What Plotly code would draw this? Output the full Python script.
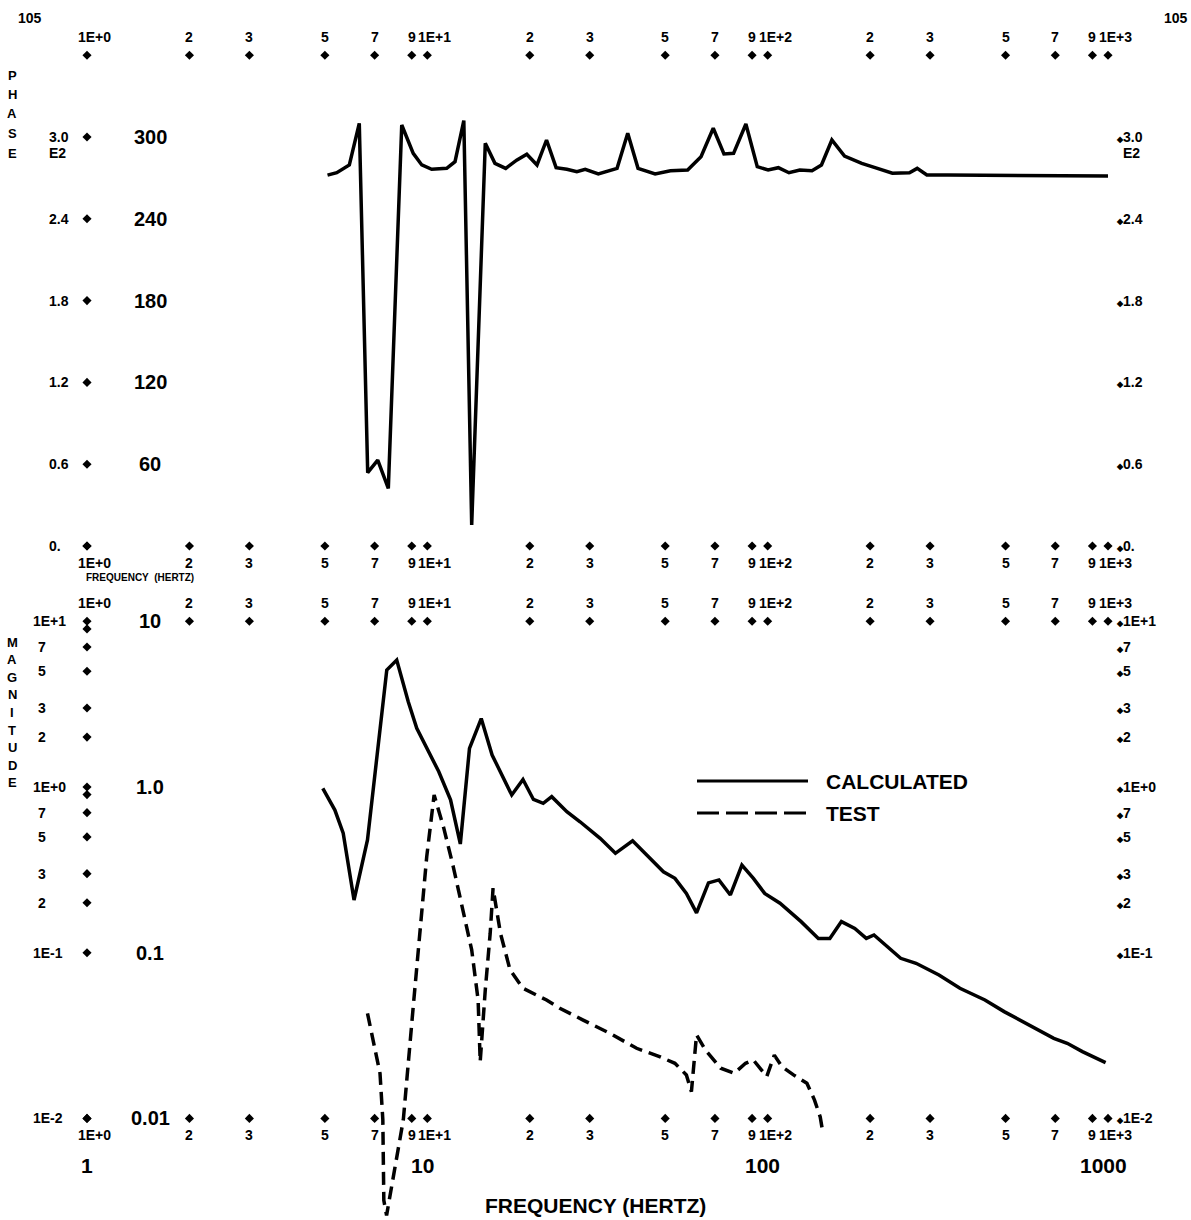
import math
import plotly.graph_objects as go

W, H = 1191, 1220

# ----------------------------- data -----------------------------
phase_freq = [5.09, 5.42, 5.90, 6.31, 6.68, 7.15, 7.68, 8.41, 9.09, 9.63,
              10.3, 11.4, 12.06, 12.8, 13.5, 13.9, 14.8, 15.8, 17.0, 18.3,
              19.6, 21.0, 22.4, 23.9, 25.7, 27.5, 29.1, 31.8, 36.1, 38.8,
              41.6, 46.7, 51.8, 58.2, 63.7, 69.2, 74.4, 79.4, 86.3, 93.2,
              100.3, 107.5, 115.5, 124.3, 135.0, 143.9, 154.4, 168.2, 189.0, 206.8,
              232.5, 261.0, 275.0, 293.6, 338.5, 1000.0]
phase_deg = [272.0, 273.8, 279.5, 310.0, 53.8, 63.0, 42.3, 308.8, 288.0, 279.5,
             276.3, 277.0, 281.9, 312.0, 15.4, 107.0, 295.4, 280.7, 277.0, 283.0,
             287.3, 279.5, 297.8, 277.5, 276.3, 274.5, 276.3, 272.9, 277.0, 302.7,
             277.0, 272.9, 275.3, 275.8, 285.6, 306.4, 287.5, 288.0, 309.5, 278.2,
             275.8, 277.5, 273.8, 275.8, 275.3, 279.5, 297.8, 286.0, 280.7, 277.5,
             273.4, 273.8, 277.0, 272.1, 272.1, 271.4]

calc_freq = [4.93, 5.35, 5.66, 6.09, 6.67, 7.60, 8.13, 8.79, 9.31, 9.96,
             10.8, 11.7, 12.5, 13.3, 14.4, 15.5, 17.7, 19.1, 20.5, 21.9,
             23.2, 25.7, 28.1, 32.2, 35.7, 40.1, 44.5, 49.4, 53.4, 57.7,
             61.8, 67.0, 71.9, 77.7, 84.0, 90.8, 98.0, 108.7, 125.4, 140.9,
             152.3, 164.7, 180.3, 194.9, 205.3, 245.9, 272.9, 318.7, 367.2, 434.9,
             495.3, 563.6, 625.0, 693.0, 759.0, 841.0, 984.0]
calc_mag = [0.98, 0.726, 0.526, 0.208, 0.479, 5.08, 5.84, 3.27, 2.26, 1.72,
            1.24, 0.836, 0.453, 1.71, 2.59, 1.56, 0.895, 1.11, 0.841, 0.797,
            0.874, 0.71, 0.617, 0.490, 0.398, 0.474, 0.380, 0.308, 0.281, 0.228,
            0.174, 0.264, 0.275, 0.223, 0.338, 0.281, 0.228, 0.199, 0.154, 0.122,
            0.122, 0.154, 0.140, 0.122, 0.128, 0.0925, 0.0863, 0.0733, 0.061, 0.0518,
            0.0441, 0.0383, 0.0341, 0.0304, 0.0284, 0.0253, 0.0217]

test_freq = [6.67, 7.26, 7.40, 7.45, 7.59, 8.0, 8.5, 9.09, 9.52, 9.96,
             10.47, 11.15, 11.92, 12.62, 13.5, 14.1, 14.3, 14.8, 15.3, 15.6,
             16.4, 17.5, 19.1, 22.4, 24.5, 28.7, 34.4, 41.2, 48.1, 53.4,
             57.7, 59.7, 61.8, 65.6, 72.8, 79.7, 86.1, 90.8, 99.4, 104.6,
             110.2, 119.1, 130.4, 137.3, 142.7, 144.5]
test_mag = [0.0431, 0.0187, 0.0098, 0.0032, 0.0026, 0.0047, 0.0098, 0.0472, 0.137, 0.38,
            0.895, 0.576, 0.330, 0.199, 0.104, 0.0518, 0.022, 0.0596, 0.131, 0.245,
            0.131, 0.0787, 0.061, 0.0518, 0.0462, 0.0392, 0.0326, 0.0265, 0.0236, 0.0215,
            0.0183, 0.0145, 0.0319, 0.0259, 0.0201, 0.0187, 0.0215, 0.0225, 0.0179, 0.0241,
            0.0205, 0.0183, 0.0163, 0.0129, 0.0102, 0.00875]

freq_ticks = [1, 2, 3, 5, 7, 9, 10, 20, 30, 50, 70, 90, 100, 200, 300, 500, 700, 900, 1000]
freq_tick_labels = ["1E+0", "2", "3", "5", "7", "9", "1E+1", "2", "3", "5", "7", "9",
                    "1E+2", "2", "3", "5", "7", "9", "1E+3"]
phase_ticks = [0, 60, 120, 180, 240, 300]
phase_labels_e2 = ["0.", "0.6", "1.2", "1.8", "2.4", "3.0"]
phase_labels_deg = ["", "60", "120", "180", "240", "300"]
phase_frame_top = 360
mag_left_ticks = [10, 9, 7, 5, 3, 2, 1, 0.9, 0.7, 0.5, 0.3, 0.2, 0.1, 0.01]
mag_left_labels = ["1E+1", "", "7", "5", "3", "2", "1E+0", "", "7", "5", "3", "2", "1E-1", "1E-2"]
mag_hand_ticks = [10, 1, 0.1, 0.01]
mag_hand_labels = ["10", "1.0", "0.1", "0.01"]
decade_freqs = [1, 10, 100, 1000]
decade_labels = ["1", "10", "100", "1000"]

# ----------------------------- geometry -----------------------------
X_LEFT, X_RIGHT = 87, 1108           # px of 1 Hz and 1000 Hz
PH_ZERO_PX, PH_PX_PER_DEG = 546, 409 / 300
PH_TOP_PX, PH_BOT_PX = 30, 560
MG_ONE_PX, MG_PX_PER_DEC = 787, 165.7
MG_TOP_PX, MG_BOT_PX = 598, 1220

PRINT = "Liberation Sans Narrow, Liberation Sans, Arial Narrow, sans-serif"
HAND = "Liberation Sans, Arial, sans-serif"
DIA = '<span style="font-size:8px">◆</span>'
PS = 14  # printer label size

fig = go.Figure()

# curves
fig.add_trace(go.Scatter(x=phase_freq, y=phase_deg, mode="lines", xaxis="x", yaxis="y",
                         line=dict(color="black", width=3.5), showlegend=False, hoverinfo="skip"))
fig.add_trace(go.Scatter(x=calc_freq, y=calc_mag, mode="lines", xaxis="x2", yaxis="y2",
                         line=dict(color="black", width=3.5), showlegend=False, hoverinfo="skip"))
fig.add_trace(go.Scatter(x=test_freq, y=test_mag, mode="lines", xaxis="x2", yaxis="y2",
                         line=dict(color="black", width=3.5, dash="13px,7px"),
                         showlegend=False, hoverinfo="skip"))

# diamond tick marks
mk = dict(symbol="diamond", size=7, color="black")
def dia(xs, ys, xa, ya):
    fig.add_trace(go.Scatter(x=xs, y=ys, mode="markers", xaxis=xa, yaxis=ya, marker=mk,
                             cliponaxis=False, showlegend=False, hoverinfo="skip"))

dia(freq_ticks, [phase_frame_top] * len(freq_ticks), "x", "y")
dia(freq_ticks, [0] * len(freq_ticks), "x", "y")
dia([1] * len(phase_ticks), phase_ticks, "x", "y")
dia(freq_ticks[1:], [10] * (len(freq_ticks) - 1), "x2", "y2")
dia(freq_ticks, [0.01] * len(freq_ticks), "x2", "y2")
dia([1] * len(mag_left_ticks), mag_left_ticks, "x2", "y2")

# ----------------------------- text -----------------------------
anns = []
def A(text, y, yref="paper", f=None, xpx=None, size=PS, anchor="center", family=PRINT, xshift=0):
    if yref == "paper":
        yv = 1 - y / H
    elif yref == "y2":
        yv = math.log10(y)
    else:
        yv = y
    d = dict(text=f"<b>{text}</b>", showarrow=False, yref=yref, y=yv,
             yanchor="middle", xanchor=anchor, xshift=xshift,
             font=dict(family=family, size=size, color="black"))
    if f is not None:
        d.update(xref="x", x=math.log10(f))
    else:
        d.update(xref="paper", x=xpx / W)
    anns.append(d)

# frequency label rows
for row_px in (37, 563, 603, 1135):
    for f, lab in zip(freq_ticks, freq_tick_labels):
        if lab.startswith("1E"):
            A(lab, row_px, f=f, anchor="left", xshift=-11)
        else:
            A(lab, row_px, f=f)

A("105", 18, xpx=30)
A("105", 18, xpx=1176)

for i, ch in enumerate("PHASE"):
    A(ch, 75 + i * 19.5, xpx=12, size=13)
for i, ch in enumerate("MAGNITUDE"):
    A(ch, 642 + i * 17.6, xpx=12, size=13)

# phase axis labels
for v, lab, lab2 in zip(phase_ticks, phase_labels_e2, phase_labels_deg):
    A(lab, v, yref="y", xpx=47, anchor="left")
    A(DIA + lab, v, yref="y", xpx=1114, anchor="left")
    if lab2:
        A(lab2, v, yref="y", xpx=150, size=20, family=HAND)
A("E2", 153, xpx=47, anchor="left")
A("E2", 153, xpx=1121, anchor="left")
A("FREQUENCY  (HERTZ)", 577, xpx=140, size=10)

# magnitude axis labels
for v, lab in zip(mag_left_ticks, mag_left_labels):
    if not lab:
        continue
    if lab.startswith("1E"):
        A(lab, v, yref="y2", xpx=31, anchor="left")
    else:
        A(lab, v, yref="y2", xpx=42)
    A(DIA + lab, v, yref="y2", xpx=1114, anchor="left")
for v, lab in zip(mag_hand_ticks, mag_hand_labels):
    A(lab, v, yref="y2", xpx=150, size=20, family=HAND)

for f, lab in zip(decade_freqs, decade_labels):
    A(lab, 1165, f=f, size=21, family=HAND, xshift=-5 if f > 1 else 0)
A("FREQUENCY (HERTZ)", 1205, xpx=595, size=21, family=HAND)

# legend
A("CALCULATED", 781, xpx=824, anchor="left", size=21, family=HAND)
A("TEST", 813, xpx=824, anchor="left", size=21, family=HAND)
shapes = [
    dict(type="line", xref="paper", yref="paper", x0=697 / W, x1=808 / W,
         y0=1 - 781 / H, y1=1 - 781 / H, line=dict(color="black", width=3)),
    dict(type="line", xref="paper", yref="paper", x0=697 / W, x1=808 / W,
         y0=1 - 813 / H, y1=1 - 813 / H, line=dict(color="black", width=3, dash="22px,7px")),
]

ax_common = dict(showgrid=False, zeroline=False, showline=False, ticks="", showticklabels=False)
fig.update_layout(
    width=W, height=H, autosize=False,
    margin=dict(l=0, r=0, t=0, b=0),
    paper_bgcolor="white", plot_bgcolor="rgba(0,0,0,0)",
    xaxis=dict(type="log", range=[0, 3], domain=[X_LEFT / W, X_RIGHT / W], anchor="y", **ax_common),
    xaxis2=dict(type="log", range=[0, 3], domain=[X_LEFT / W, X_RIGHT / W], anchor="y2", **ax_common),
    yaxis=dict(range=[(PH_ZERO_PX - PH_BOT_PX) / PH_PX_PER_DEG, (PH_ZERO_PX - PH_TOP_PX) / PH_PX_PER_DEG],
               domain=[1 - PH_BOT_PX / H, 1 - PH_TOP_PX / H], anchor="x", **ax_common),
    yaxis2=dict(type="log",
                range=[(MG_ONE_PX - MG_BOT_PX) / MG_PX_PER_DEC, (MG_ONE_PX - MG_TOP_PX) / MG_PX_PER_DEC],
                domain=[1 - MG_BOT_PX / H, 1 - MG_TOP_PX / H], anchor="x2", **ax_common),
    annotations=anns,
    shapes=shapes,
)

fig.write_html("out.html", config={"displayModeBar": False},
               post_script="document.body.style.margin='0';document.body.style.padding='0';")
